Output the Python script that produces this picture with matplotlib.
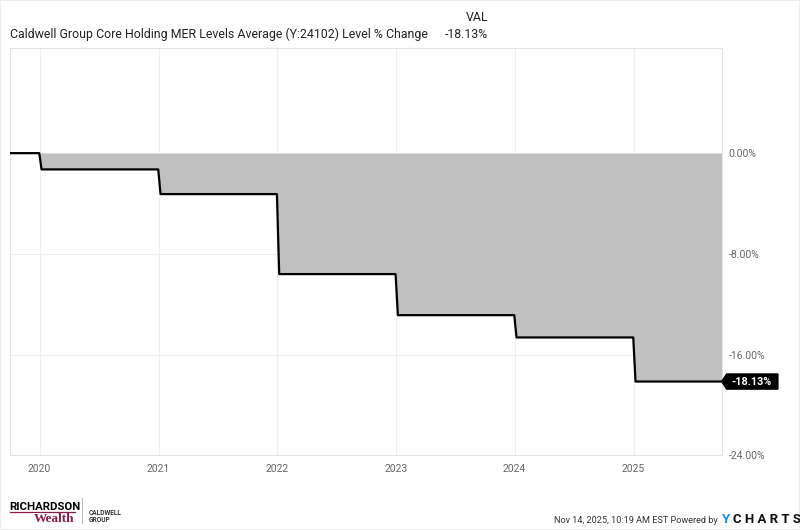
import matplotlib
matplotlib.use("Agg")
import matplotlib.pyplot as plt
import matplotlib.dates as mdates
import numpy as np
from matplotlib.patches import Rectangle, Polygon

plt.rcParams["font.family"] = ["Roboto", "DejaVu Sans"]

dates = ["2019-10-02", "2019-12-31", "2020-01-07", "2020-12-31", "2021-01-07",
         "2021-12-31", "2022-01-07", "2022-12-31", "2023-01-07", "2023-12-31",
         "2024-01-07", "2024-12-31", "2025-01-07", "2025-09-29"]
values = [0.0, 0.0, -1.29, -1.29, -3.25, -3.25, -9.60, -9.60,
          -12.86, -12.86, -14.63, -14.63, -18.13, -18.13]
yticks = [0, -8, -16, -24]
ytick_labels = ["0.00%", "-8.00%", "-16.00%", "-24.00%"]
years = [2020, 2021, 2022, 2023, 2024, 2025]
series_name = "Caldwell Group Core Holding MER Levels Average (Y:24102) Level % Change"
last_label = "-18.13%"

x = mdates.date2num(np.array(dates, dtype="datetime64[D]"))
y = np.array(values)

fig = plt.figure(figsize=(8, 5.3), dpi=100)
ax = fig.add_axes([0.0125, 0.1406, 0.8896, 0.7684])

ax.fill_between(x, y, 0, color="#c0c0c0", lw=0, zorder=1)
ax.plot(x, y, color="black", lw=1.6, zorder=3)

ax.set_xlim(x[0], x[-1])
ax.set_ylim(-24, 8.33)

ax.set_xticks(mdates.date2num(np.array([f"{yr}-01-01" for yr in years], dtype="datetime64[D]")))
ax.set_xticklabels([str(yr) for yr in years])
ax.set_yticks(yticks)
ax.set_yticklabels(ytick_labels)
ax.yaxis.tick_right()
ax.tick_params(axis="both", length=0, labelsize=7.5, colors="#666666")
ax.tick_params(axis="y", pad=5)
ax.tick_params(axis="x", pad=6)
ax.grid(True, color="#efefef", lw=0.8, zorder=0)
ax.set_axisbelow(True)
for s in ax.spines.values():
    s.set_color("#e4e4e4")
    s.set_linewidth(0.8)

# end-value tag
trans = ax.get_yaxis_transform()
ax.add_patch(Polygon([(1.0, -18.13), (1.007, -17.53), (1.079, -17.53),
                      (1.079, -18.73), (1.007, -18.73)], closed=True,
                     transform=trans, color="black", clip_on=False, zorder=5))
ax.text(1.013, -18.13, last_label, transform=trans, color="white", fontsize=7.8,
        fontweight="bold", va="center", ha="left", zorder=6)

# header
fig.text(0.0125, 0.928, series_name, fontsize=8.9, color="#222222", va="baseline")
fig.text(0.61, 0.960, "VAL", fontsize=8.9, color="#222222", ha="right", va="baseline")
fig.text(0.61, 0.928, last_label, fontsize=8.9, color="#222222", ha="right", va="baseline")

# footer logo
fig.text(0.012, 0.038, "RICHARDSON", fontsize=8.2, fontweight="bold", color="black",
         va="baseline")
fig.add_artist(plt.Line2D([0.012, 0.094], [0.034, 0.034], color="#8a1a4a", lw=0.9))
fig.text(0.0935, 0.0155, "Wealth", fontsize=9.5, fontweight="bold", color="#8a1a4a",
         family=["Liberation Serif", "DejaVu Serif"], ha="right", va="baseline")
fig.add_artist(plt.Line2D([0.1025, 0.1025], [0.013, 0.060], color="#bbbbbb", lw=0.8))
fig.text(0.111, 0.0275, "CALDWELL", fontsize=4.8, fontweight="bold", color="#333333", va="baseline")
fig.text(0.111, 0.0155, "GROUP", fontsize=4.8, fontweight="bold", color="#333333", va="baseline")

# footer credit
fig.text(0.8975, 0.0138, "Nov 14, 2025, 10:19 AM EST Powered by", fontsize=6.6,
         color="#333333", ha="right", va="baseline")
fig.text(0.903, 0.0138, "Y", fontsize=9.5, fontweight="bold", color="#1e88e5", va="baseline")
fig.text(0.916, 0.0138, "C H A R T S", fontsize=9.5, fontweight="bold", color="#111111",
         va="baseline", fontstretch="expanded")

fig.add_artist(Rectangle((0, 0), 1, 1, transform=fig.transFigure, fill=False,
                         edgecolor="#eeeeee", lw=1.5))

fig.savefig("out.png", dpi=100)
